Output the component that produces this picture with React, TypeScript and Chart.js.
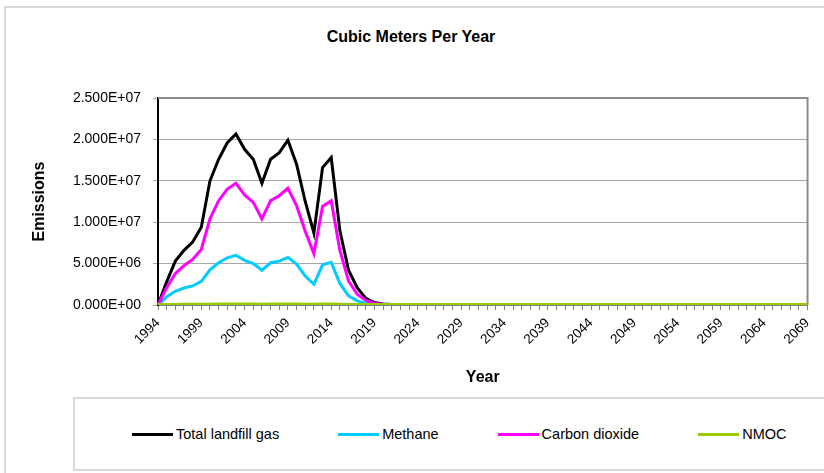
import React, { useEffect, useRef } from 'react';
import { Chart, registerables } from 'chart.js';

Chart.register(...registerables);

const years = [
  '1994', '1995', '1996', '1997', '1998', '1999', '2000', '2001', '2002', '2003',
  '2004', '2005', '2006', '2007', '2008', '2009', '2010', '2011', '2012', '2013',
  '2014', '2015', '2016', '2017', '2018', '2019', '2020', '2021', '2022', '2023',
  '2024', '2025', '2026', '2027', '2028', '2029', '2030', '2031', '2032', '2033',
  '2034', '2035', '2036', '2037', '2038', '2039', '2040', '2041', '2042', '2043',
  '2044', '2045', '2046', '2047', '2048', '2049', '2050', '2051', '2052', '2053',
  '2054', '2055', '2056', '2057', '2058', '2059', '2060', '2061', '2062', '2063',
  '2064', '2065', '2066', '2067', '2068', '2069',
];

const totalLandfillGas = [
  0, 2.8e6, 5.3e6, 6.6e6, 7.6e6, 9.4e6, 1.5e7, 1.76e7, 1.96e7, 2.065e7,
  1.88e7, 1.76e7, 1.47e7, 1.76e7, 1.84e7, 1.99e7, 1.7e7, 1.25e7, 8.7e6, 1.66e7,
  1.78e7, 9.0e6, 4.2e6, 2.1e6, 8.0e5, 3.0e5, 1.2e5, 5.0e4, 2.0e4, 8.0e3,
  3.0e3, 1.2e3, 500, 200, 80, 30, 0, 0, 0, 0,
  0, 0, 0, 0, 0, 0, 0, 0, 0, 0,
  0, 0, 0, 0, 0, 0, 0, 0, 0, 0,
  0, 0, 0, 0, 0, 0, 0, 0, 0, 0,
  0, 0, 0, 0, 0, 0,
];

const methane = [
  0, 1.0e6, 1.65e6, 2.05e6, 2.3e6, 2.85e6, 4.25e6, 5.1e6, 5.7e6, 6.0e6,
  5.4e6, 5.0e6, 4.2e6, 5.1e6, 5.3e6, 5.75e6, 4.95e6, 3.5e6, 2.5e6, 4.85e6,
  5.15e6, 2.6e6, 1.1e6, 5.0e5, 2.0e5, 8.0e4, 3.0e4, 1.2e4, 5.0e3, 2.0e3,
  800, 300, 100, 40, 0, 0, 0, 0, 0, 0,
  0, 0, 0, 0, 0, 0, 0, 0, 0, 0,
  0, 0, 0, 0, 0, 0, 0, 0, 0, 0,
  0, 0, 0, 0, 0, 0, 0, 0, 0, 0,
  0, 0, 0, 0, 0, 0,
];

const carbonDioxide = [
  0, 2.1e6, 3.8e6, 4.75e6, 5.5e6, 6.7e6, 1.04e7, 1.26e7, 1.4e7, 1.47e7,
  1.33e7, 1.24e7, 1.04e7, 1.26e7, 1.32e7, 1.41e7, 1.2e7, 8.9e6, 6.2e6, 1.19e7,
  1.26e7, 6.6e6, 2.9e6, 1.3e6, 5.5e5, 2.0e5, 9.0e4, 3.5e4, 1.4e4, 6.0e3,
  2.0e3, 900, 400, 150, 60, 20, 0, 0, 0, 0,
  0, 0, 0, 0, 0, 0, 0, 0, 0, 0,
  0, 0, 0, 0, 0, 0, 0, 0, 0, 0,
  0, 0, 0, 0, 0, 0, 0, 0, 0, 0,
  0, 0, 0, 0, 0, 0,
];

const nmoc = [
  0, 8e3, 1.5e4, 1.9e4, 2.2e4, 2.7e4, 4.3e4, 5.0e4, 5.6e4, 5.9e4,
  5.4e4, 5.0e4, 4.2e4, 5.0e4, 5.3e4, 5.7e4, 4.8e4, 3.5e4, 2.4e4, 4.6e4,
  4.9e4, 2.5e4, 1.2e4, 6e3, 2e3, 800, 300, 100, 0, 0,
  0, 0, 0, 0, 0, 0, 0, 0, 0, 0,
  0, 0, 0, 0, 0, 0, 0, 0, 0, 0,
  0, 0, 0, 0, 0, 0, 0, 0, 0, 0,
  0, 0, 0, 0, 0, 0, 0, 0, 0, 0,
  0, 0, 0, 0, 0, 0,
];

const seriesNames = ['Total landfill gas', 'Methane', 'Carbon dioxide', 'NMOC'];
const seriesColors = ['#000000', '#00ccff', '#ff00ff', '#99cc00'];
const seriesValues = [totalLandfillGas, methane, carbonDioxide, nmoc];

const chartTitle = 'Cubic Meters Per Year';
const xTitle = 'Year';
const yTitle = 'Emissions';
const yMax = 2.5e7;
const yStep = 5e6;
const labelEvery = 5;

const FONT = '"Liberation Sans", Arial, Helvetica, sans-serif';

function sci(v: number): string {
  const [m, e] = v.toExponential(3).split('e');
  const n = parseInt(e, 10);
  return `${m}E${n < 0 ? '-' : '+'}${String(Math.abs(n)).padStart(2, '0')}`;
}

const plotBorder = {
  id: 'plotBorder',
  beforeDatasetsDraw(chart: any) {
    const { ctx, chartArea } = chart;
    const { left, top, right, bottom } = chartArea;
    ctx.save();
    ctx.strokeStyle = '#8c8c8c';
    ctx.lineWidth = 2;
    ctx.beginPath();
    ctx.moveTo(left, top);
    ctx.lineTo(right, top);
    ctx.lineTo(right, bottom);
    ctx.stroke();
    ctx.restore();
  },
};

export default function App() {
  const canvasRef = useRef<HTMLCanvasElement | null>(null);

  useEffect(() => {
    if (!canvasRef.current) return;
    const chart = new Chart(canvasRef.current, {
      type: 'line',
      data: {
        labels: years,
        datasets: seriesNames.map((name, i) => ({
          label: name,
          data: seriesValues[i],
          borderColor: seriesColors[i],
          backgroundColor: seriesColors[i],
          borderWidth: i === 3 ? 4 : 3,
          pointRadius: 0,
          tension: 0,
          fill: false,
          order: 4 - i,
        })),
      },
      options: {
        responsive: false,
        animation: false,
        layout: { padding: { left: 0, right: 9, top: 98, bottom: 0 } },
        plugins: {
          legend: { display: false },
          title: { display: false },
          tooltip: { enabled: false },
        },
        scales: {
          x: {
            type: 'category',
            offset: false,
            afterFit: (s: any) => {
              s.height = 90;
            },
            grid: {
              display: true,
              drawOnChartArea: false,
              drawTicks: true,
              tickLength: 5,
              color: '#808080',
            },
            border: { display: true, color: '#808080', width: 2 },
            ticks: {
              autoSkip: false,
              maxRotation: 45,
              minRotation: 45,
              padding: 5,
              color: '#000',
              font: { family: FONT, size: 13.5 },
              callback: (_v: any, i: number) => (i % labelEvery === 0 ? years[i] : ''),
            },
            title: {
              display: true,
              text: xTitle,
              color: '#000',
              font: { family: FONT, size: 16, weight: 'bold' },
              padding: { top: 0, bottom: 8 },
            },
          },
          y: {
            min: 0,
            max: yMax,
            afterFit: (s: any) => {
              s.width = 158;
            },
            grid: {
              display: true,
              drawTicks: true,
              tickLength: 5,
              color: '#a6a6a6',
              lineWidth: 1,
            },
            border: { display: true, color: '#000', width: 2 },
            ticks: {
              stepSize: yStep,
              padding: 12,
              color: '#000',
              font: { family: FONT, size: 14 },
              callback: (v: any) => sci(Number(v)),
            },
            title: {
              display: true,
              text: yTitle,
              color: '#000',
              font: { family: FONT, size: 16, weight: 'bold' },
              padding: { top: 30, bottom: 0 },
            },
          },
        },
      },
      plugins: [plotBorder],
    } as any);
    return () => chart.destroy();
  }, []);

  return (
    <div
      style={{
        position: 'fixed',
        left: 0,
        top: 0,
        width: 824,
        height: 473,
        overflow: 'hidden',
        background: '#fff',
        fontFamily: FONT,
      }}
    >
      <div
        style={{
          position: 'absolute',
          left: 4,
          top: 6,
          width: 900,
          height: 600,
          border: '2px solid #d9d9d9',
          boxSizing: 'border-box',
        }}
      />
      <div
        style={{
          position: 'absolute',
          left: 0,
          top: 28.5,
          width: 822,
          textAlign: 'center',
          fontWeight: 'bold',
          fontSize: 16,
          lineHeight: '16px',
          color: '#000',
        }}
      >
        {chartTitle}
      </div>
      <canvas
        ref={canvasRef}
        width={824}
        height={395}
        style={{ position: 'absolute', left: 0, top: 0, width: 824, height: 395 }}
      />
      <div
        style={{
          position: 'absolute',
          left: 73,
          top: 397,
          width: 780,
          height: 74,
          border: '2px solid #d9d9d9',
          boxSizing: 'border-box',
          display: 'flex',
          alignItems: 'center',
          paddingLeft: 57,
          gap: 59,
        }}
      >
        {seriesNames.map((name, i) => (
          <div key={name} style={{ display: 'flex', alignItems: 'center' }}>
            <div style={{ width: 41, height: 3, background: seriesColors[i], marginRight: 3 }} />
            <span style={{ fontSize: 14.5, color: '#000', whiteSpace: 'nowrap' }}>{name}</span>
          </div>
        ))}
      </div>
    </div>
  );
}
